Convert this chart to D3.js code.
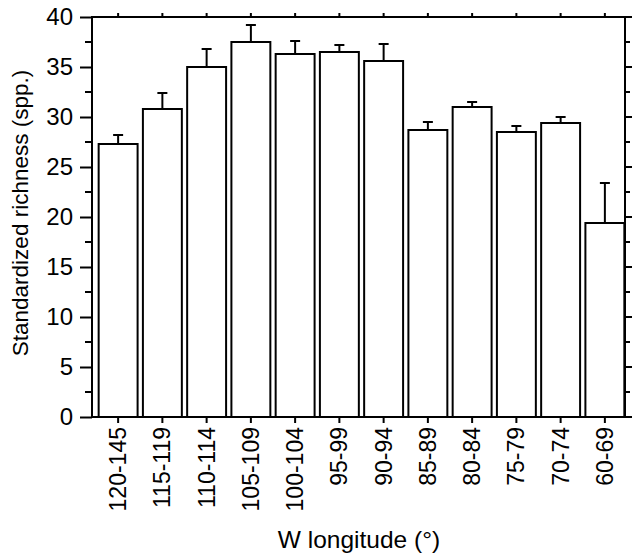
<!DOCTYPE html>
<html>
<head>
<meta charset="utf-8">
<script src="https://cdn.jsdelivr.net/npm/d3@7"></script>
<style>
  body { margin: 0; background: #fff; }
  text { font-family: "Liberation Sans", Arial, Helvetica, sans-serif; fill: #000; }
</style>
</head>
<body>
<script>
const WIDTH = 632;
const HEIGHT = 559;

// data
const categories = ['120-145', '115-119', '110-114', '105-109', '100-104', '95-99',
    '90-94', '85-89', '80-84', '75-79', '70-74', '60-69'];
const richness = [27.3, 30.8, 35.0, 37.5, 36.3, 36.5, 35.6, 28.7, 31.0, 28.5, 29.4, 19.4];
const errorTop = [28.2, 32.4, 36.8, 39.2, 37.6, 37.2, 37.3, 29.5, 31.5, 29.1, 30.0, 23.4];
const yTicks = [0, 5, 10, 15, 20, 25, 30, 35, 40];
const yMinor = [2.5, 7.5, 12.5, 17.5, 22.5, 27.5, 32.5, 37.5];

const LEFT = 92, RIGHT = 625, TOP = 17, BOTTOM = 417;

const svg = d3.select('body')
    .append('svg')
    .attr('width', WIDTH)
    .attr('height', HEIGHT);

const x = d3.scaleBand()
    .domain(categories)
    .range([96, 627])
    .paddingInner(0.12)
    .paddingOuter(0.06);

const y = d3.scaleLinear()
    .domain([0, 40])
    .range([BOTTOM, TOP]);

// bars
svg.append('g')
    .selectAll('rect')
    .data(categories)
    .join('rect')
    .attr('x', d => x(d))
    .attr('y', (d, i) => y(richness[i]))
    .attr('width', x.bandwidth())
    .attr('height', (d, i) => BOTTOM - y(richness[i]))
    .attr('fill', 'white')
    .attr('stroke', 'black')
    .attr('stroke-width', 2);

// error bars (upper only)
const err = svg.append('g')
    .attr('stroke', 'black')
    .attr('stroke-width', 2);
categories.forEach((c, i) => {
    const cx = x(c) + x.bandwidth() / 2;
    err.append('line')
        .attr('x1', cx).attr('x2', cx)
        .attr('y1', y(richness[i])).attr('y2', y(errorTop[i]));
    err.append('line')
        .attr('x1', cx - 5).attr('x2', cx + 5)
        .attr('y1', y(errorTop[i])).attr('y2', y(errorTop[i]));
});

// left axis
const yAxis = svg.append('g')
    .attr('transform', `translate(${LEFT},0)`)
    .call(d3.axisLeft(y).tickValues(yTicks).tickSize(12).tickPadding(7).tickFormat(d3.format('d')));
yAxis.select('.domain').remove();
yAxis.selectAll('line').attr('stroke-width', 2);
yAxis.selectAll('text').style('font-size', '24px');

svg.append('g')
    .selectAll('line')
    .data(yMinor)
    .join('line')
    .attr('x1', LEFT - 7).attr('x2', LEFT)
    .attr('y1', d => y(d)).attr('y2', d => y(d))
    .attr('stroke', 'black').attr('stroke-width', 2);

// right axis ticks
svg.append('g')
    .selectAll('line')
    .data(yTicks.concat(yMinor))
    .join('line')
    .attr('x1', RIGHT)
    .attr('x2', d => RIGHT + (d % 5 === 0 ? 8 : 5))
    .attr('y1', d => y(d)).attr('y2', d => y(d))
    .attr('stroke', 'black').attr('stroke-width', 2);

// bottom axis
const xAxis = svg.append('g')
    .attr('transform', `translate(0,${BOTTOM})`)
    .call(d3.axisBottom(x).tickSize(6).tickPadding(0));
xAxis.select('.domain').remove();
xAxis.selectAll('line').attr('stroke-width', 2);
xAxis.selectAll('text')
    .style('font-size', '23px')
    .attr('text-anchor', 'end')
    .attr('dy', null)
    .attr('transform', 'rotate(-90)')
    .attr('x', -10)
    .attr('y', 0)
    .attr('dominant-baseline', 'central');

// top axis ticks
svg.append('g')
    .selectAll('line')
    .data(categories)
    .join('line')
    .attr('x1', d => x(d) + x.bandwidth() / 2)
    .attr('x2', d => x(d) + x.bandwidth() / 2)
    .attr('y1', TOP).attr('y2', TOP - 4)
    .attr('stroke', 'black').attr('stroke-width', 2);

// frame
svg.append('rect')
    .attr('x', LEFT).attr('y', TOP)
    .attr('width', RIGHT - LEFT).attr('height', BOTTOM - TOP)
    .attr('fill', 'none')
    .attr('stroke', 'black')
    .attr('stroke-width', 2);

// titles
svg.append('text')
    .attr('x', (275 + 443) / 2)
    .attr('y', 548)
    .attr('text-anchor', 'middle')
    .style('font-size', '24.5px')
    .text('W longitude (°)');

svg.append('text')
    .attr('transform', `translate(28, 213) rotate(-90)`)
    .attr('text-anchor', 'middle')
    .style('font-size', '22.5px')
    .text('Standardized richness (spp.)');
</script>
</body>
</html>
